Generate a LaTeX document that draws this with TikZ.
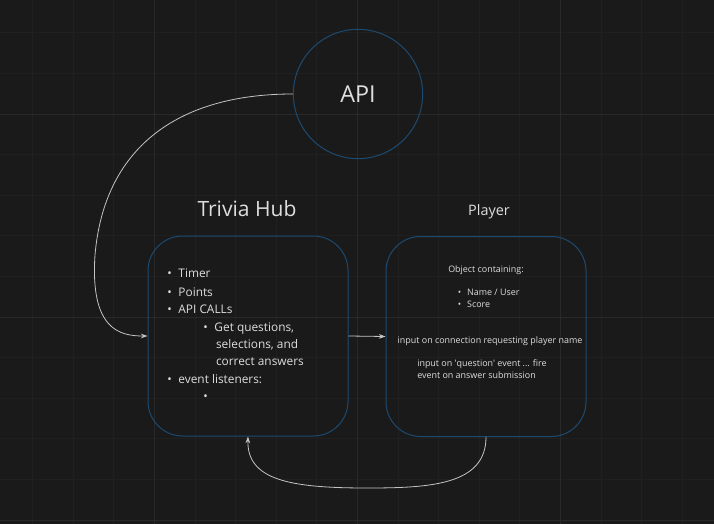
\documentclass[tikz,border=0pt]{standalone}
\usepackage{fontspec}
\setmainfont{Open Sans}
\usetikzlibrary{arrows.meta,positioning}
\definecolor{canvas}{HTML}{1A1A1A}
\definecolor{gridminor}{HTML}{202020}
\definecolor{gridmajor}{HTML}{292929}
\definecolor{edgeblue}{HTML}{1C4A70}
\definecolor{wire}{HTML}{C4C4C4}
\definecolor{ink}{HTML}{DEDEDE}
\newcommand{\itm}{\makebox[8.4pt][l]{\textbullet}}
\tikzset{
  roundbox/.style={draw=edgeblue, line width=0.75pt, rounded corners=26pt, minimum width=150pt, minimum height=150pt, inner sep=0pt},
  apicircle/.style={draw=edgeblue, line width=0.75pt, circle, minimum size=97pt, inner sep=0pt, text=ink, font=\fontsize{17.5}{21}\selectfont},
  title/.style={text=ink, inner sep=0pt},
  note/.style={text=ink, inner sep=0pt, font=\fontsize{6.7}{9.2}\selectfont},
  link/.style={draw=wire, line width=0.6pt, -{Stealth[length=5pt,width=3.5pt]}}
}
\begin{document}
\begin{tikzpicture}[x=0.75pt,y=-0.75pt]
        \fill [canvas] (0,0) rectangle (714,524);
        \useasboundingbox (0,0) rectangle (714,524);
        \foreach \k in {0,...,16}
          \draw [gridminor,line width=0.6pt] ({32.5+40.6*\k},0) -- ({32.5+40.6*\k},524);
        \foreach \k in {0,...,12}
          \draw [gridminor,line width=0.6pt] (0,{32.8+40.6*\k}) -- (714,{32.8+40.6*\k});
        \foreach \x in {154.3,357.3,560.3}
          \draw [gridmajor,line width=0.6pt] (\x,0) -- (\x,524);
        \foreach \y in {114,317,520}
          \draw [gridmajor,line width=0.6pt] (0,\y) -- (714,\y);

        \node [apicircle] (api) at (358,94) {API};
        \node [roundbox] (hub) at (248,336) {};
        \node [roundbox] (player) at (486,336.5) {};
        \node [title,font=\fontsize{15.8}{19}\selectfont] (hubtitle) at (247,209) {Trivia Hub};
        \node [title,font=\fontsize{10.8}{13}\selectfont] (playertitle) at (489,212) {Player};

        \node [text=ink,inner sep=0pt,anchor=north west,align=left,font=\fontsize{8.9}{13}\selectfont] (hublist) at (167,269)
          {\itm Timer\\[1pt]
           \itm Points\\
           \itm API CALLs\\
           \hspace*{27pt}\itm Get questions,\\
           \hspace*{36.6pt}selections, and\\
           \hspace*{36.6pt}correct answers\\
           \itm event listeners:\\
           \hspace*{27pt}\itm};

        \node [note] (objtitle) at (486,270) {Object containing:};
        \node [note,anchor=north west,align=left] (objlist) at (457.5,289)
          {\makebox[7pt][l]{\textbullet}Name / User\\
           \makebox[7pt][l]{\textbullet}Score};
        \node [note] (connnote) at (490,341) {input on connection requesting player name};
        \node [note,anchor=north west,align=left] (eventnote) at (417,359)
          {input on \textquotesingle question\textquotesingle{} event ... fire\\
           event on answer submission};

        \coordinate (apibend) at (95,255);
        \coordinate (loopbottom) at (367,488);
        \draw [link] (api.west) .. controls (175,94) and (104,150) .. (apibend)
                     .. controls (90,330) and (120,336) .. (hub.west);
        \draw [link] (hub.east) -- (player.west);
        \draw [link] (player.south) .. controls (486,485) and (430,488) .. (loopbottom)
                     .. controls (290,488) and (247,480) .. (hub.south);
    \end{tikzpicture}
\end{document}
